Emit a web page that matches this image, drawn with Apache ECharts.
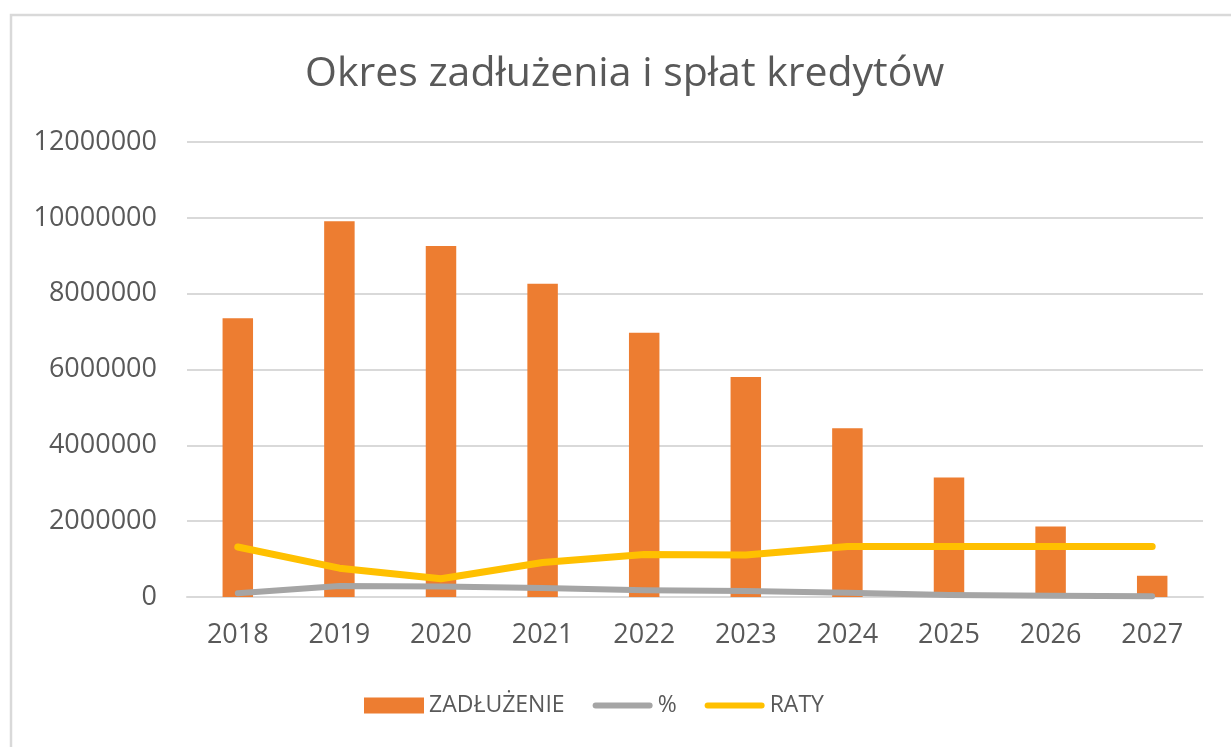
<!DOCTYPE html>
<html>
<head>
<meta charset="utf-8">
<script src="https://cdn.jsdelivr.net/npm/echarts@6/dist/echarts.min.js"></script>
<style>
  html, body { margin: 0; padding: 0; background: #fff; }
  #chart { width: 1231px; height: 747px; }
</style>
</head>
<body>
<div id="chart"></div>
<script>
// lata
var years = ['2018', '2019', '2020', '2021', '2022', '2023', '2024', '2025', '2026', '2027'];
// zadłużenie (słupki)
var zadluzenie = [7350000, 9910000, 9260000, 8260000, 6970000, 5800000, 4450000, 3150000, 1860000, 560000];
// odsetki %
var procent = [100000, 290000, 280000, 240000, 180000, 160000, 110000, 55000, 30000, 20000];
// raty
var raty = [1320000, 760000, 480000, 910000, 1120000, 1110000, 1330000, 1330000, 1330000, 1330000];

var txt = '#595959';
var font = 'Open Sans';
// ikona legendy: gruba linia z zaokrąglonymi końcami
var lineIcon = 'path://M0,0M60,16M3,5L57,5A3,3,0,0,1,57,11L3,11A3,3,0,0,1,3,5Z';

var chart = echarts.init(document.getElementById('chart'));

var option = {
  backgroundColor: '#fff',
  animation: false,
  textStyle: { fontFamily: font },
  // ramka wykresu
  graphic: [{
    type: 'rect',
    shape: { x: 11, y: 15, width: 1240, height: 760 },
    style: { fill: 'none', stroke: '#d9d9d9', lineWidth: 2.5 },
    silent: true
  }],
  title: {
    text: 'Okres zadłużenia i spłat kredytów',
    left: 300,
    top: 49,
    textStyle: { fontFamily: font, fontSize: 41, fontWeight: 'normal', color: txt }
  },
  legend: {
    left: 364,
    top: 694,
    padding: 0,
    itemWidth: 60,
    itemHeight: 16,
    itemGap: 28,
    textStyle: { fontFamily: font, fontSize: 23, color: txt },
    data: [
      { name: 'ZADŁUŻENIE', icon: 'rect' },
      { name: '%', icon: lineIcon },
      { name: 'RATY', icon: lineIcon }
    ]
  },
  grid: { left: 187, right: 28, top: 142, bottom: 150 },
  xAxis: {
    type: 'category',
    data: years,
    axisTick: { show: false },
    axisLine: { lineStyle: { color: '#d9d9d9', width: 2 } },
    axisLabel: { fontFamily: font, fontSize: 27, color: txt, margin: 25 }
  },
  yAxis: {
    type: 'value',
    min: 0,
    max: 12000000,
    interval: 2000000,
    axisLine: { show: false },
    axisTick: { show: false },
    axisLabel: {
      fontFamily: font, fontSize: 27, color: txt, margin: 30,
      formatter: function (v) { return String(v); }
    },
    splitLine: { lineStyle: { color: '#d9d9d9', width: 2 } }
  },
  series: [
    {
      name: 'ZADŁUŻENIE',
      type: 'bar',
      data: zadluzenie,
      barWidth: '30%',
      itemStyle: { color: '#ED7D31' }
    },
    {
      name: '%',
      type: 'line',
      data: procent,
      symbol: 'none',
      lineStyle: { color: '#A5A5A5', width: 6, cap: 'round', join: 'round' },
      itemStyle: { color: '#A5A5A5' }
    },
    {
      name: 'RATY',
      type: 'line',
      data: raty,
      symbol: 'none',
      lineStyle: { color: '#FFC000', width: 7, cap: 'round', join: 'round' },
      itemStyle: { color: '#FFC000' }
    }
  ]
};

chart.setOption(option);
</script>
</body>
</html>
